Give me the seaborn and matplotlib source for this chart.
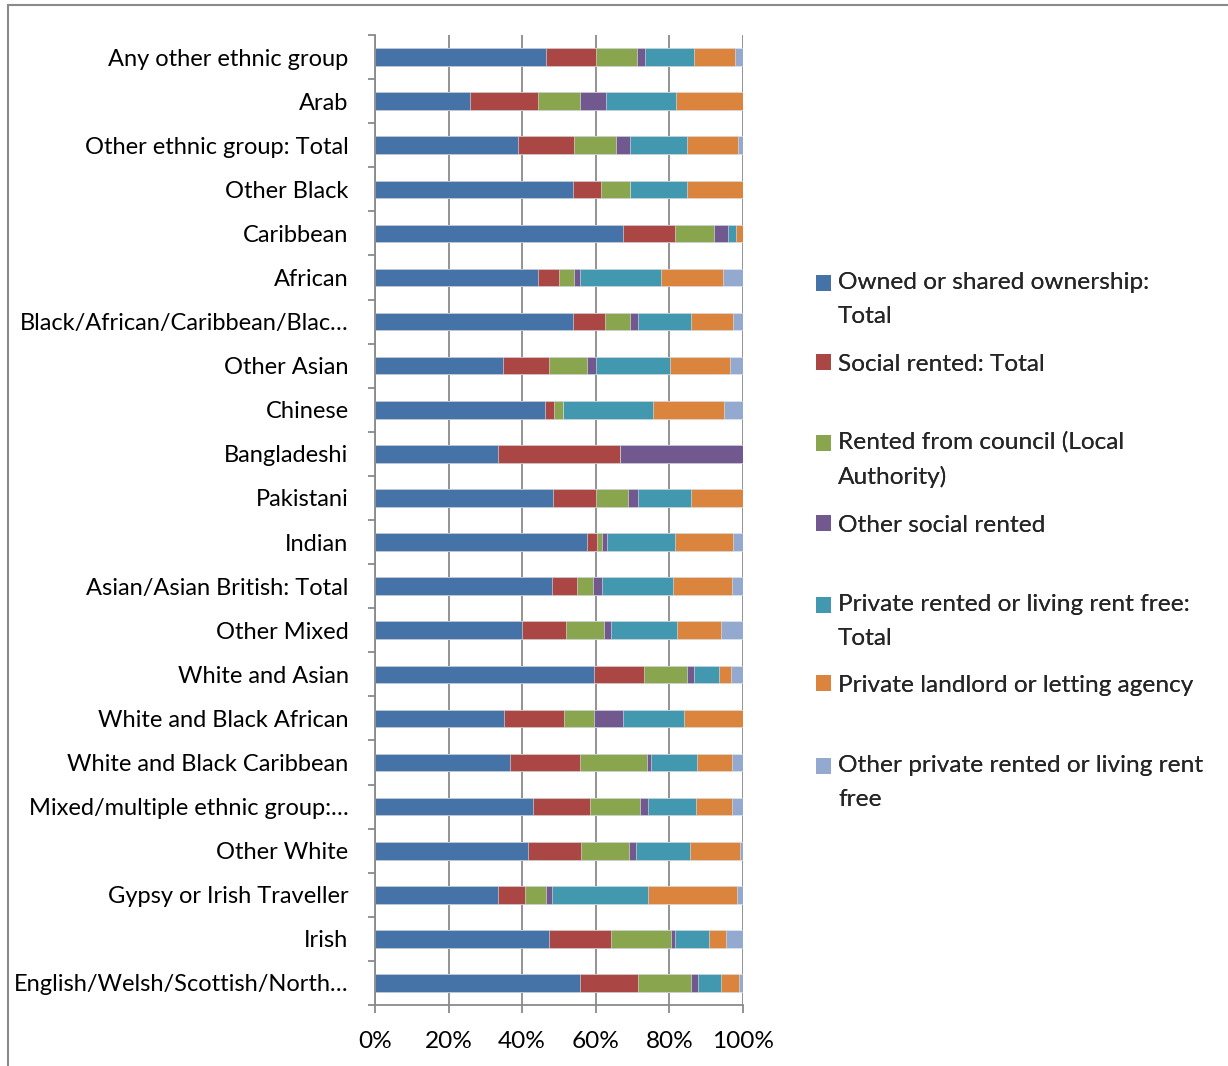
import matplotlib
matplotlib.use("Agg")
import matplotlib.pyplot as plt
import numpy as np
import pandas as pd
import seaborn as sns
from matplotlib.patches import Patch, Rectangle
from matplotlib.lines import Line2D
from matplotlib.ticker import PercentFormatter, FixedLocator
from matplotlib.legend_handler import HandlerPatch

# ---------------- data (percent of each group's bar) ----------------
categories = [
    "Any other ethnic group",
    "Arab",
    "Other ethnic group: Total",
    "Other Black",
    "Caribbean",
    "African",
    "Black/African/Caribbean/Blac\u2026",
    "Other Asian",
    "Chinese",
    "Bangladeshi",
    "Pakistani",
    "Indian",
    "Asian/Asian British: Total",
    "Other Mixed",
    "White and Asian",
    "White and Black African",
    "White and Black Caribbean",
    "Mixed/multiple ethnic group:\u2026",
    "Other White",
    "Gypsy or Irish Traveller",
    "Irish",
    "English/Welsh/Scottish/North\u2026",
]

series_names = [
    "Owned or shared ownership:\nTotal",
    "Social rented: Total",
    "Rented from council (Local\nAuthority)",
    "Other social rented",
    "Private rented or living rent free:\nTotal",
    "Private landlord or letting agency",
    "Other private rented or living rent\nfree",
]

owned = [46.5, 25.8, 38.9, 53.9, 67.5, 44.4, 53.8, 34.9, 46.1, 33.3, 48.5,
         57.5, 48.2, 39.9, 59.4, 35.0, 36.8, 42.8, 41.6, 33.3, 47.2, 55.6]
social_total = [13.6, 18.6, 15.2, 7.6, 14.1, 5.6, 8.8, 12.5, 2.6, 33.4, 11.5,
                2.8, 6.7, 12.0, 13.6, 16.3, 19.0, 15.7, 14.5, 7.4, 17.0, 16.0]
council = [11.1, 11.3, 11.4, 7.8, 10.4, 4.2, 6.8, 10.2, 2.5, 0.0, 8.7,
           1.3, 4.4, 10.2, 11.9, 8.2, 18.1, 13.5, 12.9, 5.7, 16.3, 14.3]
other_social = [2.3, 7.2, 3.9, 0.0, 4.0, 1.4, 2.2, 2.4, 0.0, 33.3, 2.9,
                1.5, 2.3, 1.9, 1.7, 8.0, 1.0, 2.3, 1.8, 1.7, 1.0, 1.8]
private_total = [13.3, 18.8, 15.5, 15.4, 2.1, 22.2, 14.3, 20.1, 24.4, 0.0, 14.2,
                 18.5, 19.3, 18.1, 6.8, 16.4, 12.5, 13.0, 14.7, 26.0, 9.3, 6.2]
landlord = [11.1, 18.3, 13.8, 15.3, 1.9, 16.9, 11.3, 16.3, 19.3, 0.0, 14.2,
            15.8, 16.1, 12.0, 3.4, 16.1, 9.7, 9.6, 13.6, 24.2, 4.5, 4.9]
other_private = [2.1, 0.0, 1.3, 0.0, 0.0, 5.3, 2.8, 3.6, 5.1, 0.0, 0.0,
                 2.6, 3.0, 5.9, 3.2, 0.0, 2.9, 3.1, 0.9, 1.7, 4.7, 1.2]

colors = ["#4572A7", "#AA4643", "#89A54E", "#71588F", "#4198AF", "#DB843D", "#93A9CF"]

series = [owned, social_total, council, other_social, private_total, landlord, other_private]

# ---------------- figure ----------------
sns.set_theme(style="white")
plt.rcParams["font.family"] = ["Lato", "DejaVu Sans"]
FS = 17
LFS = 17.6

W, H = 1228, 1066
fig = plt.figure(figsize=(W / 100, H / 100), dpi=100)
fig.patch.set_facecolor("white")
ax = fig.add_axes([375 / W, 1 - 1005 / H, (743 - 375) / W, (1005 - 35) / H])

vals = np.array(series, dtype=float)             # (7, 22)
vals = vals / vals.sum(axis=0, keepdims=True) * 100
cum = np.cumsum(vals, axis=0)

# draw cumulative layers from the widest to the narrowest
for j in range(len(series) - 1, -1, -1):
    df = pd.DataFrame({"group": categories, "value": cum[j]})
    sns.barplot(data=df, x="value", y="group", order=categories, orient="h",
                color=colors[j], saturation=1, width=0.4, errorbar=None,
                edgecolor="#e4e9f0", linewidth=0.4, ax=ax)

ax.set_xlim(0, 100)
ax.set_ylim(len(categories) - 0.5, -0.5)
ax.set_xlabel("")
ax.set_ylabel("")

grid_c = "#8a8a8a"
ax.set_xticks([0, 20, 40, 60, 80, 100])
ax.xaxis.set_major_formatter(PercentFormatter(xmax=100, decimals=0))
ax.xaxis.grid(True, color=grid_c, linewidth=1.3)
ax.yaxis.grid(False)
ax.set_axisbelow(True)

for s in ["top", "right"]:
    ax.spines[s].set_visible(False)
for s in ["left", "bottom"]:
    ax.spines[s].set_color(grid_c)
    ax.spines[s].set_linewidth(1.3)

ax.tick_params(axis="x", which="major", bottom=True, length=6, width=1.3,
               color=grid_c, labelsize=LFS, pad=13, labelcolor="black")
ax.set_yticks(range(len(categories)))
ax.set_yticklabels(categories)
ax.tick_params(axis="y", which="major", left=False, length=0, labelsize=FS,
               pad=19, labelcolor="black")
ax.yaxis.set_minor_locator(FixedLocator(np.arange(-0.5, len(categories), 1.0)))
ax.tick_params(axis="y", which="minor", left=True, length=5, width=1.3, color=grid_c)

# ---------------- legend (one entry per slot, like the original) ----------------
line_h = 33  # px between wrapped lines


class FirstLineHandler(HandlerPatch):
    def create_artists(self, legend, orig_handle, xdescent, ydescent, width,
                       height, fontsize, trans):
        shift = getattr(orig_handle, "_line_shift", 0.0)
        p = Rectangle((-xdescent, -ydescent + shift), width, height,
                      facecolor=orig_handle.get_facecolor(), edgecolor="none",
                      transform=trans)
        return [p]


first_line_centers = [283, 364, 443, 525, 605, 685, 766]
for name, col, yc in zip(series_names, colors, first_line_centers):
    nl = name.count("\n")
    h = Patch(facecolor=col, edgecolor="none")
    h._line_shift = nl * (line_h * 72 / 100) / 2
    leg = fig.legend(handles=[h], labels=[name], loc="center left",
                     bbox_to_anchor=(816 / W, 1 - (yc + nl * line_h / 2) / H),
                     frameon=False, fontsize=LFS, handlelength=0.6,
                     handleheight=0.6, handletextpad=0.3, borderpad=0,
                     borderaxespad=0, handler_map={Patch: FirstLineHandler()})
    for t in leg.get_texts():
        t.set_linespacing(1.72)
    fig.add_artist(leg)

# ---------------- outer chart border (top and left edges visible) ----------------
fig.add_artist(Line2D([8 / W, 8 / W], [0, 1 - 5 / H], color=grid_c, lw=1.5))
fig.add_artist(Line2D([8 / W, 1], [1 - 5 / H, 1 - 5 / H], color=grid_c, lw=1.5))

fig.savefig("out.png", dpi=100, facecolor="white")
